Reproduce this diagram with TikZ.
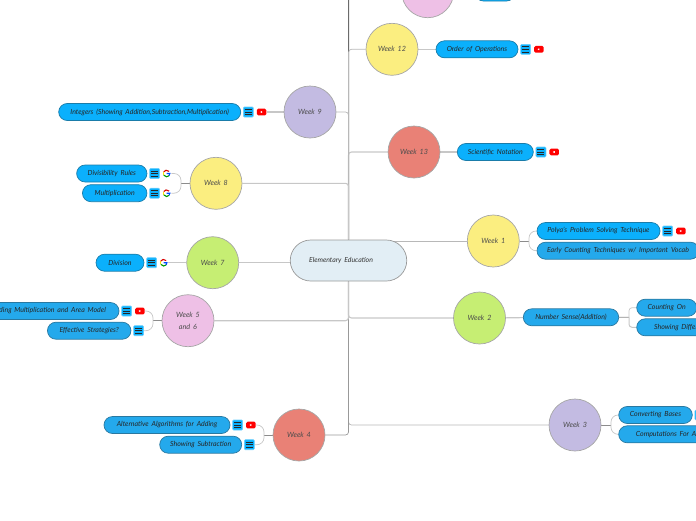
\documentclass[tikz,border=0pt]{standalone}
\usepackage{fontspec}
\setmainfont{Lato}[WordSpace=1.7]
\usetikzlibrary{positioning,shapes.misc,backgrounds}
\definecolor{pillblue}{HTML}{0BB0FC}
\definecolor{pilldeep}{HTML}{24A9EC}
\definecolor{rootfill}{HTML}{E2EEF5}
\definecolor{weekyellow}{HTML}{FBEE80}
\definecolor{weekgreen}{HTML}{C6EE73}
\definecolor{weekpurple}{HTML}{C3BBE2}
\definecolor{weekpink}{HTML}{EEC0E6}
\definecolor{weekred}{HTML}{E98176}
\tikzset{
  week/.style={circle,draw=black!35,line width=0.7pt,minimum size=52pt,inner sep=0pt,align=center,text=black!70,font=\itshape\fontsize{7.2}{12}\selectfont},
  pill/.style={rounded rectangle,draw=black!30!pillblue!85!gray,line width=0.7pt,fill=pillblue,minimum height=17pt,inner sep=0pt,text=black!85,font=\itshape\fontsize{7}{8}\selectfont},
  deep/.style={pill,fill=pilldeep,draw=black!30!pilldeep!85!gray},
  noteicon/.style={rectangle,rounded corners=1pt,draw=pillblue!60,line width=0.6pt,fill=pillblue,minimum size=10pt,inner sep=0pt,
    path picture={\foreach \dy in {-2.6pt,0pt,2.6pt}
      \draw[black!85,line width=0.8pt] ([xshift=-3.5pt,yshift=\dy]path picture bounding box.center) -- ++(7pt,0);}},
  yticon/.style={rectangle,rounded corners=1.5pt,fill=red,minimum width=9.5pt,minimum height=6.8pt,inner sep=0pt,
    path picture={\fill[white] ([xshift=-1.3pt,yshift=1.6pt]path picture bounding box.center) -- ++(3.2pt,-1.6pt) -- ++(-3.2pt,-1.6pt) -- cycle;}},
  gicon/.style={circle,fill=white,minimum size=9pt,inner sep=0pt,
    path picture={
      \coordinate (gc) at (path picture bounding box.center);
      \draw[line width=1.1pt,red!85!black] ([shift={(40:3.3pt)}]gc) arc[start angle=40,end angle=150,radius=3.3pt];
      \draw[line width=1.1pt,yellow!85!orange] ([shift={(150:3.3pt)}]gc) arc[start angle=150,end angle=210,radius=3.3pt];
      \draw[line width=1.1pt,green!60!black] ([shift={(210:3.3pt)}]gc) arc[start angle=210,end angle=320,radius=3.3pt];
      \draw[line width=1.1pt,blue!70!cyan] ([shift={(320:3.3pt)}]gc) arc[start angle=320,end angle=360,radius=3.3pt] -- (gc);}},
  limb/.style={draw=black!22,line width=1.1pt,rounded corners=3pt},
  thinlimb/.style={draw=black!28,line width=0.7pt,rounded corners=3pt},
  twig/.style={draw=black!22,line width=0.7pt,rounded corners=7pt}
}

\begin{document}
\begin{tikzpicture}[x=1pt,y=-1pt]
	\useasboundingbox (0,0) rectangle (696,520);

	\node[rounded rectangle,draw=black!40,line width=0.7pt,fill=rootfill,minimum width=116.5pt,minimum height=41pt,inner sep=0pt,text=black!80,font=\itshape\fontsize{6.9}{8}\selectfont] (root) at (348.5,260.5) {Elementary Education\hspace{15pt}\mbox{}};

	\node[week,fill=weekpink] (wtop) at (427.7,-8.3) {};
	\node[week,fill=weekyellow] (w12) at (392,49.3) {Week 12};
	\node[week,fill=weekred] (w13) at (414,152) {Week 13};
	\node[week,fill=weekyellow] (w1) at (493.3,241) {Week 1};
	\node[week,fill=weekgreen] (w2) at (479.5,318) {Week 2};
	\node[week,fill=weekpurple] (w3) at (575,425) {Week 3};
	\node[week,fill=weekred] (w4) at (299,435) {Week 4};
	\node[week,fill=weekpink] (w56) at (188,320.7) {Week 5\\ and 6};
	\node[week,fill=weekgreen] (w7) at (212.7,262.7) {Week 7};
	\node[week,fill=weekyellow] (w8) at (216,183.3) {Week 8};
	\node[week,fill=weekpurple] (w9) at (310,112) {Week 9};

	\node[pill,minimum width=40pt] (toppill) at (495,-7.5) {};

	\node[pill,minimum width=82pt] (order) at (477,49.3) {Order of Operations};
	\node[noteicon,right=2pt of order] (ordernote) {};
	\node[yticon,right=3pt of ordernote] (orderyt) {};

	\node[pill,minimum width=76pt] (sci) at (495.3,152) {Scientific Notation};
	\node[noteicon,right=2pt of sci] (scinote) {};
	\node[yticon,right=3pt of scinote] (sciyt) {};

	\node[pill,minimum width=123pt] (polya) at (598.5,231) {Polya's Problem Solving Technique};
	\node[noteicon,right=2pt of polya] (polyanote) {};
	\node[yticon,right=3pt of polyanote] (polyayt) {};
	\node[deep,minimum width=162pt] (early) at (618,250.7) {Early Counting Techniques w/ Important Vocab};

	\node[deep,minimum width=95.4pt] (sense) at (571,317.3) {Number Sense(Addition)};
	\node[deep,minimum width=60pt] (counton) at (666.7,307.7) {Counting On};
	\node[deep,minimum width=92pt] (showdiff) at (682.7,327.3) {Showing Difference};

	\node[deep,minimum width=73.6pt] (bases) at (655.5,415) {Converting Bases};
	\node[noteicon,right=2pt of bases] (basesnote) {};
	\node[deep,minimum width=115pt] (comput) at (676.2,434.3) {Computations For Addition};

	\node[pill,minimum width=182pt] (integers) at (149.7,112) {Integers (Showing Addition,Subtraction,Multiplication)};
	\node[noteicon,right=2pt of integers] (integersnote) {};
	\node[yticon,right=3pt of integersnote] (integersyt) {};

	\node[pill,minimum width=70.3pt] (rules) at (111.8,173.5) {Divisibility Rules};
	\node[noteicon,right=2pt of rules] (rulesnote) {};
	\node[gicon,right=2pt of rulesnote] (rulesg) {};
	\node[pill,minimum width=64.5pt] (multi) at (114.7,193.2) {Multiplication};
	\node[noteicon,right=2pt of multi] (multinote) {};
	\node[gicon,right=2pt of multinote] (multig) {};

	\node[pill,minimum width=48pt] (division) at (120,262.7) {Division};
	\node[noteicon,right=2pt of division] (divisionnote) {};
	\node[gicon,right=2pt of divisionnote] (divisiong) {};

	\node[deep,minimum width=144pt] (area) at (47,311) {Building Multiplication and Area Model};
	\node[noteicon,right=2pt of area] (areanote) {};
	\node[yticon,right=3pt of areanote] (areayt) {};
	\node[deep,minimum width=83.5pt] (strat) at (89.2,330.7) {Effective Strategies?};
	\node[noteicon,right=2pt of strat] (stratnote) {};

	\node[deep,minimum width=126pt] (algo) at (167,425) {Alternative Algorithms for Adding};
	\node[noteicon,right=2pt of algo] (algonote) {};
	\node[yticon,right=3pt of algonote] (algoyt) {};
	\node[deep,minimum width=82pt] (subtr) at (200.7,444.7) {Showing Subtraction};
	\node[noteicon,right=2pt of subtr] (subtrnote) {};

	\coordinate (fork8) at (181,183.3);
	\coordinate (fork56) at (153,320.7);
	\coordinate (fork4) at (264,435);
	\coordinate (fork1) at (529,241);
	\coordinate (fork2) at (629,317.3);
	\coordinate (fork3) at (611,425);

	\begin{scope}[on background layer]
		\draw[limb,draw=black!58,line width=1pt] (root) |- (wtop);
		\draw[thinlimb] (root) |- (w12);
		\draw[limb] (root) |- (w13);
		\draw[thinlimb] (root) |- (w9);
		\draw[limb] (root) |- (w8);
		\draw[thinlimb] (w1) -- (w1 -| root);
		\draw[limb] (w7) -- (w7 -| root);
		\draw[limb] (root) |- (w2);
		\draw[thinlimb] (root) |- (w3);
		\draw[thinlimb,draw=black!40] (root) |- (w4);
		\draw[limb] (root) |- (w56);

		\draw[limb] (w12) -- (order);
		\draw[limb] (w13) -- (sci);
		\draw[limb] (w9) -- (integersyt);
		\draw[limb] (w7) -- (divisiong);
		\draw[limb] (sense) -- (w2);
		\draw[limb] (wtop) -- (toppill);

		\draw[thinlimb,draw=black!45] (w8) -- (fork8);
		\draw[twig] (fork8) |- (rulesg);
		\draw[twig] (fork8) |- (multig);
		\draw[thinlimb,draw=black!45] (w56) -- (fork56);
		\draw[twig] (fork56) |- (areayt);
		\draw[twig] (fork56) |- (stratnote);
		\draw[thinlimb,draw=black!45] (w4) -- (fork4);
		\draw[twig] (fork4) |- (algoyt);
		\draw[twig] (fork4) |- (subtrnote);
		\draw[thinlimb,draw=black!45] (w1) -- (fork1);
		\draw[twig] (fork1) |- (polya);
		\draw[twig] (fork1) |- (early);
		\draw[thinlimb,draw=black!45] (sense) -- (fork2);
		\draw[twig,rounded corners=3pt] (fork2) |- (counton);
		\draw[twig,rounded corners=3pt,line width=1pt] (fork2) |- (showdiff);
		\draw[thinlimb,draw=black!45] (w3) -- (fork3);
		\draw[twig] (fork3) |- (bases);
		\draw[twig] (fork3) |- (comput);
	\end{scope}
\end{tikzpicture}
\end{document}
